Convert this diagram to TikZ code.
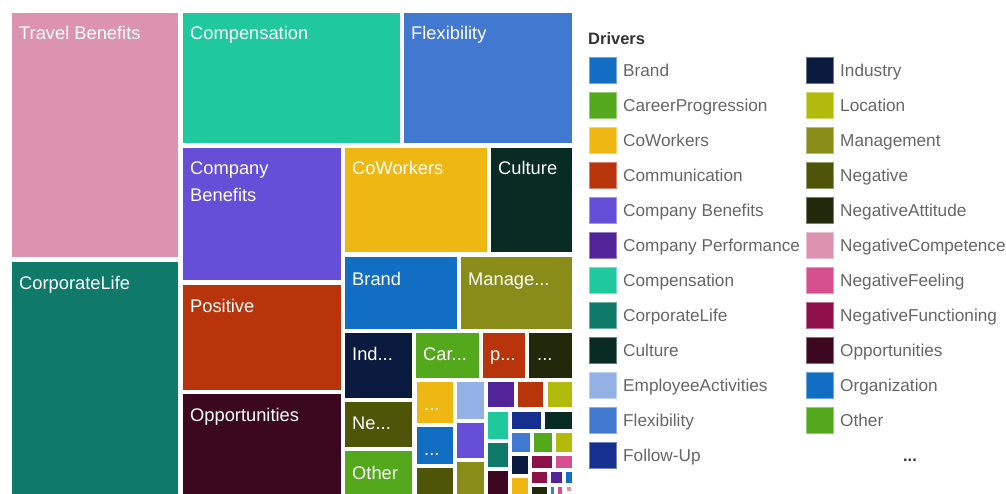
\documentclass[tikz,border=0pt]{standalone}
\usepackage{fontspec}
\setmainfont{Liberation Sans}

\definecolor{colBrand}{HTML}{126EC2}
\definecolor{colCareer}{HTML}{54A81B}
\definecolor{colCoWorkers}{HTML}{EEB711}
\definecolor{colComm}{HTML}{B8350B}
\definecolor{colCompBen}{HTML}{654FD8}
\definecolor{colCompPerf}{HTML}{51249A}
\definecolor{colCompens}{HTML}{20C89D}
\definecolor{colCorporate}{HTML}{0F7A6A}
\definecolor{colCulture}{HTML}{082B24}
\definecolor{colEmpAct}{HTML}{93B1E4}
\definecolor{colFlex}{HTML}{4178D0}
\definecolor{colFollow}{HTML}{15308F}
\definecolor{colIndustry}{HTML}{0B1A3F}
\definecolor{colLocation}{HTML}{B2BA0B}
\definecolor{colManage}{HTML}{8A8C1A}
\definecolor{colNegative}{HTML}{4E5509}
\definecolor{colNegAtt}{HTML}{22280A}
\definecolor{colNegComp}{HTML}{DB93B0}
\definecolor{colNegFeel}{HTML}{D6508F}
\definecolor{colNegFunc}{HTML}{8E1048}
\definecolor{colOpport}{HTML}{3C0820}
\definecolor{colOrg}{HTML}{116EC2}
\definecolor{colOther}{HTML}{54A81B}
\definecolor{legendgray}{HTML}{666666}
\definecolor{titlegray}{HTML}{333333}

\tikzset{
  tilelabel/.style={anchor=base west, inner sep=0pt, text=white, align=left,
    font=\fontsize{18.3}{27}\selectfont},
  legtext/.style={anchor=base west, inner sep=0pt, text=legendgray,
    font=\fontsize{17.2}{18}\selectfont},
  swatch/.style={minimum width=27pt, minimum height=26pt, inner sep=0pt, line width=1pt}
}

\begin{document}
\begin{tikzpicture}[x=1pt,y=-1pt]
	\useasboundingbox (0,0) rectangle (1006,494);
	% treemap tiles
	\foreach \col/\xa/\ya/\xb/\yb in {
	  colNegComp/12/13/178/257, colCorporate/12/262/178/494,
	  colCompens/183/13/400/143, colFlex/404/13/572/143,
	  colCompBen/183/148/341/280, colCoWorkers/345/148/487/252,
	  colCulture/491/148/572/252, colBrand/345/257/457/329,
	  colManage/461/257/572/329, colComm/183/285/341/390,
	  colOpport/183/394/341/494, colIndustry/345/333/412/398,
	  colNegative/345/402/412/447, colOther/345/451/412/494,
	  colCareer/416/333/479/378, colComm/483/333/525/378,
	  colNegAtt/529/333/572/378}
	  \fill[\col] (\xa,\ya) rectangle (\xb,\yb);
	% small tiles
	\foreach \col/\xa/\ya/\xb/\yb in {
	  colCoWorkers/417/382/453/423, colEmpAct/457/382/484/419,
	  colCompPerf/488/382/514/407, colComm/518/382/543/407,
	  colLocation/548/382/572/407, colOrg/417/427/453/464,
	  colCompBen/457/423/484/458, colNegative/417/468/453/494,
	  colManage/457/462/484/494, colCompens/488/412/508/439,
	  colCorporate/488/443/508/467, colOpport/488/471/508/494,
	  colFollow/512/412/541/429, colCulture/545/412/572/429,
	  colFlex/512/433/530/452, colCareer/534/433/552/452,
	  colLocation/556/433/572/452, colIndustry/512/456/528/474,
	  colNegFunc/532/456/552/468, colNegFeel/556/456/572/468,
	  colCoWorkers/512/478/528/494, colNegFunc/532/472/547/483,
	  colCompPerf/551/472/562/483, colBrand/566/472/572/483,
	  colNegAtt/532/487/547/494, colFlex/551/487/554/494,
	  colNegFeel/558/487/562/494, colNegComp/567/487/571/491}
	  \fill[\col] (\xa,\ya) rectangle (\xb,\yb);
	% tile labels
	\node[tilelabel] (travel) at (19,40) {Travel Benefits};
	\node[tilelabel] (corporate) at (19,289) {CorporateLife};
	\node[tilelabel] (compens) at (190,40) {Compensation};
	\node[tilelabel] (flex) at (411,40) {Flexibility};
	\node[tilelabel] (compben) at (190,202) {Company\\Benefits};
	\node[tilelabel] (coworkers) at (352,175) {CoWorkers};
	\node[tilelabel] (culture) at (498,175) {Culture};
	\node[tilelabel] (brand) at (352,285) {Brand};
	\node[tilelabel] (manage) at (468,285) {Manage...};
	\node[tilelabel] (positive) at (190,312) {Positive};
	\node[tilelabel] (opport) at (190,421) {Opportunities};
	\node[tilelabel] (industry) at (352,360) {Ind...};
	\node[tilelabel] (career) at (423,360) {Car...};
	\node[tilelabel] (pos) at (490,360) {p...};
	\node[tilelabel] (negatt) at (537,360) {...};
	\node[tilelabel] (negative) at (352,429) {Ne...};
	\node[tilelabel] (other) at (352,479) {Other};
	\node[tilelabel] (cow) at (424,410) {...};
	\node[tilelabel] (org) at (424,455) {...};
	% legend
	\node[anchor=base west, inner sep=0pt, text=titlegray, font=\fontsize{16.5}{18}\selectfont\bfseries]
	  (drivers) at (588,45) {Drivers};
	\foreach \lab/\col [count=\i] in {Brand/colBrand, CareerProgression/colCareer,
	  CoWorkers/colCoWorkers, Communication/colComm, Company Benefits/colCompBen,
	  Company Performance/colCompPerf, Compensation/colCompens,
	  CorporateLife/colCorporate, Culture/colCulture,
	  EmployeeActivities/colEmpAct, Flexibility/colFlex, Follow-Up/colFollow}{
	  \node[swatch, fill=\col, draw=\col!60!white] (swA\i) at (602.5,35.3+35*\i) {};
	  \node[legtext] (legA\i) at (623,41.8+35*\i) {\lab};
	}
	\foreach \lab/\col [count=\i] in {Industry/colIndustry, Location/colLocation,
	  Management/colManage, Negative/colNegative, NegativeAttitude/colNegAtt,
	  NegativeCompetence/colNegComp, NegativeFeeling/colNegFeel,
	  NegativeFunctioning/colNegFunc, Opportunities/colOpport,
	  Organization/colOrg, Other/colOther}{
	  \node[swatch, fill=\col, draw=\col!60!white] (swB\i) at (819.5,35.3+35*\i) {};
	  \node[legtext] (legB\i) at (840,41.8+35*\i) {\lab};
	}
	\node[anchor=base, inner sep=0pt, text=titlegray, font=\fontsize{16.5}{18}\selectfont\bfseries]
	  (more) at (910,461) {...};
\end{tikzpicture}
\end{document}
